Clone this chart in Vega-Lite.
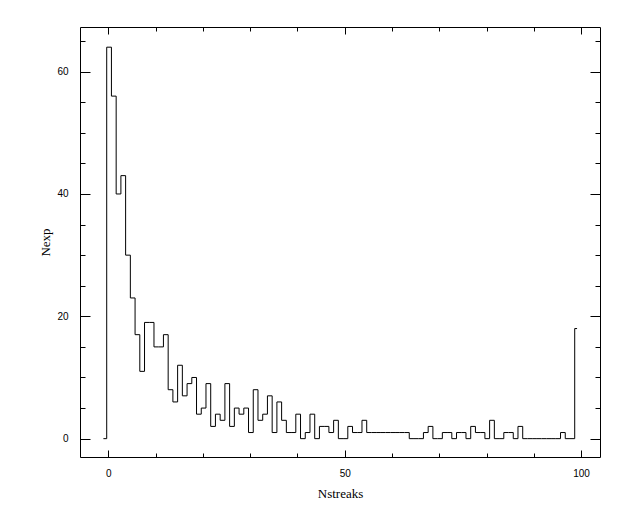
{
  "$schema": "https://vega.github.io/schema/vega-lite/v6.json",
  "autosize": "none",
  "width": 520,
  "height": 430,
  "padding": {"left": 80, "top": 27, "right": 32, "bottom": 75},
  "background": "white",
  "config": {
    "view": {"stroke": "black", "strokeWidth": 1},
    "axis": {
      "domain": false,
      "grid": false,
      "tickColor": "black",
      "tickWidth": 1,
      "labelColor": "black",
      "labelFont": "Liberation Sans",
      "labelFontSize": 10,
      "titleColor": "black",
      "titleFont": "Liberation Serif",
      "titleFontSize": 13,
      "titleFontWeight": "normal"
    }
  },
  "data": {
    "values": [
      {"Nstreaks": -1.05, "Nexp": 0},
      {"Nstreaks": -0.35, "Nexp": 64}, {"Nstreaks": 0.65, "Nexp": 56}, {"Nstreaks": 1.65, "Nexp": 40},
      {"Nstreaks": 2.65, "Nexp": 43}, {"Nstreaks": 3.65, "Nexp": 30}, {"Nstreaks": 4.65, "Nexp": 23},
      {"Nstreaks": 5.65, "Nexp": 17}, {"Nstreaks": 6.65, "Nexp": 11}, {"Nstreaks": 7.65, "Nexp": 19},
      {"Nstreaks": 8.65, "Nexp": 19}, {"Nstreaks": 9.65, "Nexp": 15}, {"Nstreaks": 10.65, "Nexp": 15},
      {"Nstreaks": 11.65, "Nexp": 17}, {"Nstreaks": 12.65, "Nexp": 8}, {"Nstreaks": 13.65, "Nexp": 6},
      {"Nstreaks": 14.65, "Nexp": 12}, {"Nstreaks": 15.65, "Nexp": 7}, {"Nstreaks": 16.65, "Nexp": 9},
      {"Nstreaks": 17.65, "Nexp": 10}, {"Nstreaks": 18.65, "Nexp": 4}, {"Nstreaks": 19.65, "Nexp": 5},
      {"Nstreaks": 20.65, "Nexp": 9}, {"Nstreaks": 21.65, "Nexp": 2}, {"Nstreaks": 22.65, "Nexp": 4},
      {"Nstreaks": 23.65, "Nexp": 3}, {"Nstreaks": 24.65, "Nexp": 9}, {"Nstreaks": 25.65, "Nexp": 2},
      {"Nstreaks": 26.65, "Nexp": 5}, {"Nstreaks": 27.65, "Nexp": 4}, {"Nstreaks": 28.65, "Nexp": 5},
      {"Nstreaks": 29.65, "Nexp": 1}, {"Nstreaks": 30.65, "Nexp": 8}, {"Nstreaks": 31.65, "Nexp": 3},
      {"Nstreaks": 32.65, "Nexp": 4}, {"Nstreaks": 33.65, "Nexp": 7}, {"Nstreaks": 34.65, "Nexp": 1},
      {"Nstreaks": 35.65, "Nexp": 6}, {"Nstreaks": 36.65, "Nexp": 3}, {"Nstreaks": 37.65, "Nexp": 1},
      {"Nstreaks": 38.65, "Nexp": 1}, {"Nstreaks": 39.65, "Nexp": 4}, {"Nstreaks": 40.65, "Nexp": 0},
      {"Nstreaks": 41.65, "Nexp": 1}, {"Nstreaks": 42.65, "Nexp": 4}, {"Nstreaks": 43.65, "Nexp": 0},
      {"Nstreaks": 44.65, "Nexp": 2}, {"Nstreaks": 45.65, "Nexp": 2}, {"Nstreaks": 46.65, "Nexp": 1},
      {"Nstreaks": 47.65, "Nexp": 3}, {"Nstreaks": 48.65, "Nexp": 0}, {"Nstreaks": 49.65, "Nexp": 0},
      {"Nstreaks": 50.65, "Nexp": 2}, {"Nstreaks": 51.65, "Nexp": 1}, {"Nstreaks": 52.65, "Nexp": 1},
      {"Nstreaks": 53.65, "Nexp": 3}, {"Nstreaks": 54.65, "Nexp": 1}, {"Nstreaks": 55.65, "Nexp": 1},
      {"Nstreaks": 56.65, "Nexp": 1}, {"Nstreaks": 57.65, "Nexp": 1}, {"Nstreaks": 58.65, "Nexp": 1},
      {"Nstreaks": 59.65, "Nexp": 1}, {"Nstreaks": 60.65, "Nexp": 1}, {"Nstreaks": 61.65, "Nexp": 1},
      {"Nstreaks": 62.65, "Nexp": 1}, {"Nstreaks": 63.65, "Nexp": 0}, {"Nstreaks": 64.65, "Nexp": 0},
      {"Nstreaks": 65.65, "Nexp": 0}, {"Nstreaks": 66.65, "Nexp": 1}, {"Nstreaks": 67.65, "Nexp": 2},
      {"Nstreaks": 68.65, "Nexp": 0}, {"Nstreaks": 69.65, "Nexp": 0}, {"Nstreaks": 70.65, "Nexp": 1},
      {"Nstreaks": 71.65, "Nexp": 1}, {"Nstreaks": 72.65, "Nexp": 0}, {"Nstreaks": 73.65, "Nexp": 1},
      {"Nstreaks": 74.65, "Nexp": 1}, {"Nstreaks": 75.65, "Nexp": 0}, {"Nstreaks": 76.65, "Nexp": 2},
      {"Nstreaks": 77.65, "Nexp": 1}, {"Nstreaks": 78.65, "Nexp": 1}, {"Nstreaks": 79.65, "Nexp": 0},
      {"Nstreaks": 80.65, "Nexp": 3}, {"Nstreaks": 81.65, "Nexp": 0}, {"Nstreaks": 82.65, "Nexp": 0},
      {"Nstreaks": 83.65, "Nexp": 1}, {"Nstreaks": 84.65, "Nexp": 1}, {"Nstreaks": 85.65, "Nexp": 0},
      {"Nstreaks": 86.65, "Nexp": 2}, {"Nstreaks": 87.65, "Nexp": 0}, {"Nstreaks": 88.65, "Nexp": 0},
      {"Nstreaks": 89.65, "Nexp": 0}, {"Nstreaks": 90.65, "Nexp": 0}, {"Nstreaks": 91.65, "Nexp": 0},
      {"Nstreaks": 92.65, "Nexp": 0}, {"Nstreaks": 93.65, "Nexp": 0}, {"Nstreaks": 94.65, "Nexp": 0},
      {"Nstreaks": 95.65, "Nexp": 1}, {"Nstreaks": 96.65, "Nexp": 0}, {"Nstreaks": 97.65, "Nexp": 0},
      {"Nstreaks": 98.65, "Nexp": 18},
      {"Nstreaks": 99.15, "Nexp": 18}
    ]
  },
  "resolve": {"axis": {"x": "independent", "y": "independent"}},
  "layer": [
    {
      "mark": {"type": "line", "interpolate": "step-after", "color": "black", "strokeWidth": 1},
      "encoding": {
        "x": {
          "field": "Nstreaks", "type": "quantitative",
          "scale": {"domain": [-6, 104], "nice": false, "zero": false},
          "axis": {"orient": "bottom", "values": [0, 50, 100], "ticks": false, "labelPadding": 11,
                   "title": "Nstreaks", "titleY": 40, "titleBaseline": "alphabetic"}
        },
        "y": {
          "field": "Nexp", "type": "quantitative",
          "scale": {"domain": [-3, 67.3], "nice": false, "zero": false},
          "axis": {"orient": "left", "values": [0, 20, 40, 60], "ticks": false, "labelPadding": 12,
                   "title": "Nexp", "titleX": -30.5, "titleBaseline": "alphabetic"}
        }
      }
    },
    {
      "mark": {"type": "line", "opacity": 0},
      "encoding": {
        "x": {"field": "Nstreaks", "type": "quantitative",
              "axis": {"orient": "bottom", "values": [0, 50, 100], "labels": false, "tickSize": -7, "title": null}},
        "y": {"field": "Nexp", "type": "quantitative",
              "axis": {"orient": "left", "values": [0, 20, 40, 60], "labels": false, "tickSize": -10, "title": null}}
      }
    },
    {
      "mark": {"type": "line", "opacity": 0},
      "encoding": {
        "x": {"field": "Nstreaks", "type": "quantitative",
              "axis": {"orient": "bottom", "values": [10, 20, 30, 40, 60, 70, 80, 90], "labels": false, "tickSize": -4, "title": null}},
        "y": {"field": "Nexp", "type": "quantitative",
              "axis": {"orient": "left", "values": [5, 10, 15, 25, 30, 35, 45, 50, 55, 65], "labels": false, "tickSize": -5, "title": null}}
      }
    },
    {
      "mark": {"type": "line", "opacity": 0},
      "encoding": {
        "x": {"field": "Nstreaks", "type": "quantitative",
              "axis": {"orient": "top", "values": [0, 50, 100], "labels": false, "tickSize": -7, "title": null}},
        "y": {"field": "Nexp", "type": "quantitative",
              "axis": {"orient": "right", "values": [0, 20, 40, 60], "labels": false, "tickSize": -10, "title": null}}
      }
    },
    {
      "mark": {"type": "line", "opacity": 0},
      "encoding": {
        "x": {"field": "Nstreaks", "type": "quantitative",
              "axis": {"orient": "top", "values": [10, 20, 30, 40, 60, 70, 80, 90], "labels": false, "tickSize": -4, "title": null}},
        "y": {"field": "Nexp", "type": "quantitative",
              "axis": {"orient": "right", "values": [5, 10, 15, 25, 30, 35, 45, 50, 55, 65], "labels": false, "tickSize": -5, "title": null}}
      }
    }
  ]
}
